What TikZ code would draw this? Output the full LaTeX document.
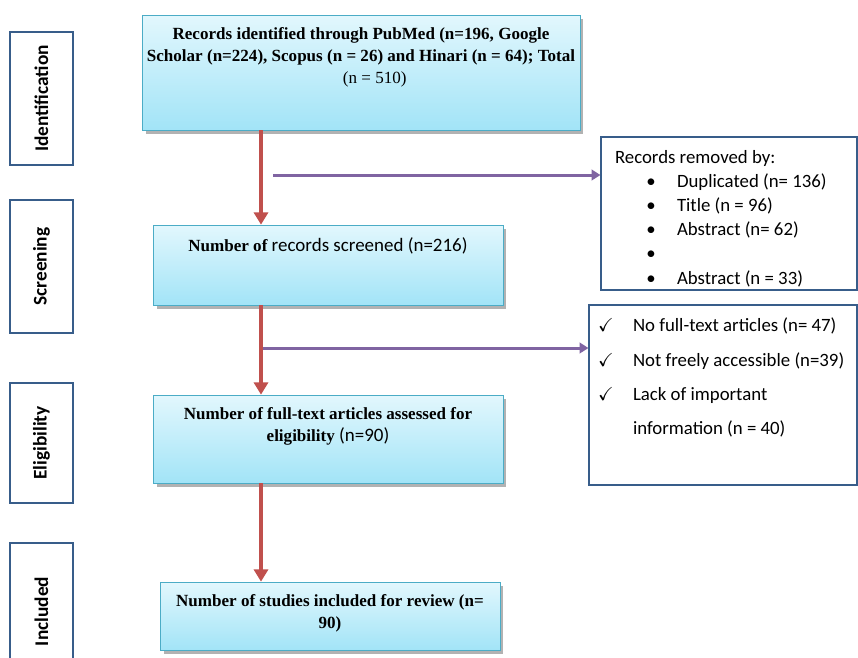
\documentclass[tikz,border=0pt]{standalone}
\usepackage{amssymb}
\usepackage{fontspec}
\setmainfont{Carlito}
\newfontfamily\timesfont{Liberation Serif}
\usetikzlibrary{arrows.meta,shadows}

\definecolor{boxline}{HTML}{4BACC6}
\definecolor{boxtop}{HTML}{E2F7FD}
\definecolor{boxbottom}{HTML}{A2E4F7}
\definecolor{sideline}{HTML}{385D8A}
\definecolor{flowred}{HTML}{C0504D}
\definecolor{flowpurple}{HTML}{8064A2}

\newcommand{\tnr}[1]{{\timesfont\bfseries\fontsize{9.7}{12.5}\selectfont #1}}
\newcommand{\stagetext}[3]{\parbox[c][#1][t]{#2}{\centering\vspace*{7pt}#3}}
\newcommand{\notetext}[3]{\parbox[c][#1][t]{#2}{\raggedright\vspace*{7.5pt}#3}}
\newcommand{\bul}[1]{\hspace*{1.0cm}\makebox[0pt]{\textbullet}\hspace*{0.52cm}#1}
\newcommand{\chk}[1]{\hspace*{0.34cm}\makebox[0pt]{$\checkmark$}\hspace*{0.54cm}#1}

\tikzset{
  stage/.style={draw=boxline, top color=boxtop, bottom color=boxbottom, inner sep=0pt, font=\fontsize{10.8}{12.5}\selectfont, drop shadow={shadow xshift=2pt, shadow yshift=-2pt, fill=black!50, opacity=0.6}},
  phase/.style={draw=sideline, line width=0.8pt, fill=white, rotate=90, inner sep=0pt, font=\fontsize{11}{13}\selectfont\bfseries},
  note/.style={draw=sideline, line width=0.7pt, fill=white, inner sep=0pt},
  flow/.style={draw=flowred, line width=2.8pt, -{Triangle[width=8pt,length=7pt]}},
  removal/.style={draw=flowpurple, line width=1.7pt, -{Triangle[width=6pt,length=5pt]}}
}

\begin{document}
\begin{tikzpicture}[x=0.02cm, y=-0.02cm]
\useasboundingbox (0,0) rectangle (858,657);
\fill[white] (0,0) rectangle (858,657);

\node[phase, minimum width=2.66cm, minimum height=1.26cm] (idf) at (41.5,98.5) {Identification};
\node[phase, minimum width=2.66cm, minimum height=1.26cm] (scr) at (41.5,266.5) {Screening};
\node[phase, minimum width=2.4cm, minimum height=1.26cm] (elg) at (41.5,443) {Eligibility};
\node[phase, minimum width=2.74cm, minimum height=1.26cm] (inc) at (41.5,611.5) {Included};

\node[stage] (records) at (361,72.5) {\stagetext{2.3cm}{8.76cm}{\tnr{Records identified through PubMed (n=196, Google\\ Scholar (n=224), Scopus (n = 26) and Hinari (n = 64); Total\\ \hspace*{0.55cm}\mdseries (n = 510)}}};
\node[stage] (screened) at (328,265) {\stagetext{1.6cm}{7cm}{\tnr{Number of} records screened (n=216)}};
\node[stage] (assessed) at (328,439) {\stagetext{1.76cm}{7cm}{\tnr{Number of full-text articles assessed for\\ eligibility} (n=90)}};
\node[stage] (included) at (330,616) {\stagetext{1.36cm}{6.8cm}{\tnr{Number of studies included for review (n=\\ 90)}}};

\node[note, font=\fontsize{10.7}{13.75}\selectfont] (removed) at (729,213.5) {\notetext{3.06cm}{5.12cm}{\hspace*{0.28cm}Records removed by:\\ \bul{Duplicated (n= 136)}\\ \bul{Title (n = 96)}\\ \bul{Abstract (n= 62)}\\ \bul{}\\ \bul{Abstract (n = 33)}}};
\node[note, font=\fontsize{10.7}{19.5}\selectfont] (excluded) at (723,395) {\notetext{3.6cm}{5.36cm}{\chk{No full-text articles (n= 47)}\\ \chk{Not freely accessible (n=39)}\\ \chk{Lack of important}\\ \hspace*{0.88cm}information (n = 40)}};

\coordinate (spine) at (261,0);
\coordinate (cut1) at (273,175);
\coordinate (cut2) at (261,348);

\draw[removal] (cut1) -- (cut1 -| removed.west);
\draw[removal] (cut2) -- (cut2 -| excluded.west);

\draw[flow] (records.south -| spine) -- (screened.north -| spine);
\draw[flow] (screened.south -| spine) -- (assessed.north -| spine);
\draw[flow] (assessed.south -| spine) -- (included.north -| spine);

\end{tikzpicture}
\end{document}
